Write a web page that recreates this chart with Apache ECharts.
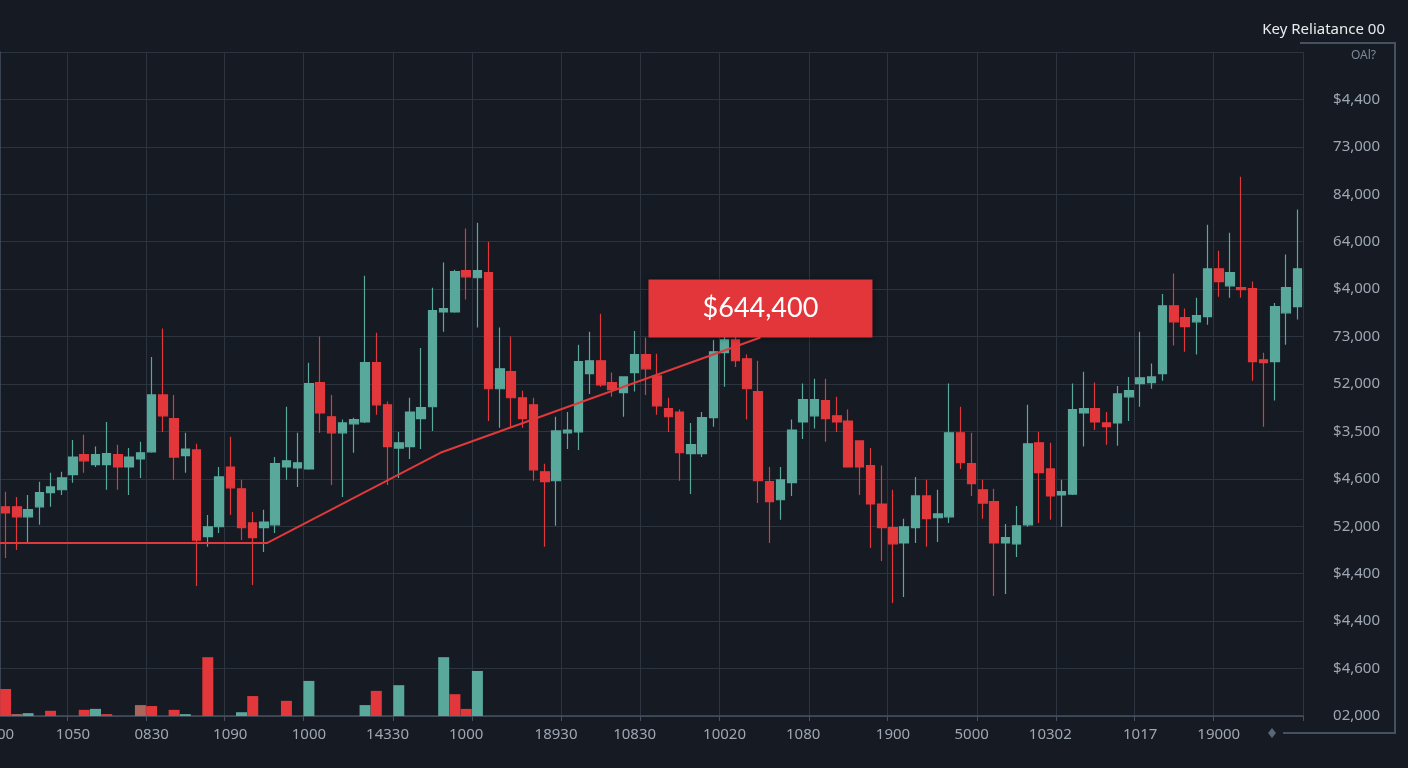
<!DOCTYPE html>
<html>
<head>
<meta charset="utf-8">
<title>Key Reliatance</title>
<script src="https://cdn.jsdelivr.net/npm/echarts@6/dist/echarts.min.js"></script>
<style>
	html, body { margin: 0; padding: 0; background: #151a23; }
	#kline { width: 1408px; height: 768px; }
</style>
</head>
<body>
<div id="kline"></div>
<script>
// 数据 [open, close, low, high]
var candles = [
	[441, 428, 333, 473], [441, 420, 350, 462], [420, 435, 367, 466], [441, 471, 403, 494], [471, 483, 441, 513],
	[477, 502, 466, 515], [509, 546, 492, 582], [551, 538, 513, 593], [530, 551, 525, 568], [530, 553, 477, 620],
	[551, 525, 477, 572], [525, 546, 466, 565], [542, 555, 502, 578], [557, 677, 555, 757], [677, 633, 599, 817],
	[627, 546, 498, 677], [549, 563, 513, 597], [561, 371, 274, 574], [378, 399, 357, 424], [399, 504, 386, 525],
	[525, 481, 424, 589], [479, 397, 371, 498], [407, 376, 276, 430], [397, 409, 346, 435], [403, 532, 386, 546],
	[525, 538, 498, 652], [523, 534, 483, 597], [521, 701, 519, 745], [703, 639, 597, 800], [631, 597, 487, 677],
	[597, 618, 462, 625], [616, 625, 555, 629], [620, 745, 618, 928], [745, 656, 635, 808], [656, 568, 487, 663],
	[565, 576, 502, 599], [568, 641, 542, 671], [627, 650, 563, 776], [652, 855, 601, 903], [852, 859, 810, 956],
	[852, 937, 850, 941], [939, 926, 878, 1028], [924, 939, 819, 1040], [935, 690, 622, 1000], [690, 732, 608, 819],
	[726, 671, 608, 800], [671, 627, 608, 686], [656, 519, 496, 671], [515, 494, 357, 532], [496, 601, 401, 631],
	[597, 603, 563, 641], [599, 747, 561, 783], [722, 749, 679, 810], [749, 698, 694, 848], [703, 688, 673, 724],
	[682, 715, 631, 715], [724, 762, 684, 812], [762, 732, 677, 798], [717, 654, 635, 764], [648, 631, 599, 671],
	[641, 555, 496, 646], [553, 572, 468, 618], [553, 629, 546, 641], [629, 768, 610, 793], [766, 793, 694, 831],
	[793, 749, 736, 819], [753, 690, 625, 762], [684, 496, 449, 749], [494, 452, 365, 525], [456, 498, 414, 525],
	[492, 603, 464, 625], [620, 667, 584, 701], [633, 667, 606, 711], [665, 627, 578, 711], [633, 620, 599, 673],
	[622, 525, 525, 646], [580, 525, 466, 580], [528, 447, 354, 565], [447, 397, 327, 528], [397, 363, 238, 477],
	[365, 399, 251, 416], [397, 464, 365, 504], [464, 416, 357, 498], [418, 426, 367, 477], [420, 597, 407, 701],
	[597, 534, 521, 652], [532, 490, 464, 597], [477, 449, 416, 498], [452, 365, 253, 479], [365, 376, 257, 405],
	[363, 401, 335, 443], [403, 574, 399, 656], [576, 513, 407, 599], [521, 464, 414, 576], [466, 473, 399, 498],
	[468, 646, 466, 701], [639, 648, 568, 726], [648, 620, 603, 703], [618, 610, 572, 641], [618, 679, 570, 696],
	[673, 686, 622, 715], [701, 713, 652, 810], [703, 715, 690, 743], [722, 865, 707, 890], [865, 831, 781, 933],
	[840, 821, 768, 859], [831, 844, 762, 882], [842, 943, 825, 1036], [943, 916, 884, 981], [907, 935, 882, 1019],
	[903, 899, 882, 1137], [901, 747, 707, 916], [751, 745, 610, 766], [747, 863, 665, 871], [850, 903, 783, 973],
	[863, 943, 836, 1068]
];

// 成交量 (candle index, value, direction 1 up / -1 down / 0 muted)
var volIdx = [0, 1, 2, 4, 7, 8, 9, 12, 13, 15, 16, 18, 21, 22, 25, 27, 32, 33, 35, 39, 40, 41, 42];
var volVals = [57, 4, 6, 11, 13, 15, 4, 23, 21, 13, 4, 124, 8, 42, 32, 74, 23, 53, 65, 124, 46, 15, 95];
var volDir = [-1, 0, 1, -1, -1, 1, -1, 0, -1, -1, 1, -1, 1, -1, -1, 1, 1, -1, 1, 1, -1, -1, 1];

// 支撑/趋势线
var trendX = [0, 23.8, 39.2, 67.7];
var trendY = [365, 365, 555, 798];
var boxText = '$644,400';

// x 轴标签
var xLabelIdx = [0, 6, 13, 20, 27, 34, 41, 49, 56, 64, 71, 79, 86, 93, 101, 108];
var xLabels = ['00', '1050', '0830', '1090', '1000', '14330', '1000', '18930', '10830', '10020', '1080', '1900', '5000', '10302', '1017', '19000'];
var xSplitIdx = [6, 13, 20, 27, 35, 42, 50, 57, 64, 72, 79, 87, 94, 101, 108];

// y 轴标签 (0 .. 1400 step 100)
var yLabels = ['02,000', '$4,600', '$4,400', '$4,400', '52,000', '$4,600', '$3,500', '52,000', '73,000', '$4,000', '64,000', '84,000', '73,000', '$4,400', 'OAl?'];

var main = {
	init: function() {
		main.kline()
	},
	kline: function() {
		var myChart = echarts.init(document.getElementById('kline'));
		var up = '#58a89c', down = '#e2383b', muted = '#a9675c';
		var gridColor = '#2c343f', axisColor = '#465061', textColor = '#9ea7b2';

		var cats = candles.map(function(d, i) { return 'd' + i; });
		var vol = cats.map(function() { return null; });
		volIdx.forEach(function(k, i) {
			vol[k] = {
				value: volVals[i],
				itemStyle: { color: volDir[i] > 0 ? up : (volDir[i] < 0 ? down : muted) }
			};
		});
		var trend = trendX.map(function(x, i) { return [x, trendY[i]]; });
		var last = trend[trend.length - 1];

		var option = {
			animation: false,
			backgroundColor: '#151a23',
			title: {
				text: 'Key Reliatance 00',
				right: 18,
				top: 17,
				textStyle: { color: '#e9ecef', fontSize: 15, fontWeight: 'normal', fontFamily: 'Noto Sans' }
			},
			grid: { left: 0, right: 105, top: 52, bottom: 52, containLabel: false, outerBoundsMode: 'none' },
			xAxis: [{
				type: 'category',
				data: cats,
				boundaryGap: true,
				axisLine: { lineStyle: { color: axisColor, width: 1.5 } },
				axisTick: {
					show: true,
					length: 5,
					interval: function(i) { return xSplitIdx.indexOf(i) >= 0; },
					lineStyle: { color: axisColor }
				},
				axisLabel: {
					interval: function(i) { return xLabelIdx.indexOf(i) >= 0; },
					formatter: function(v, i) {
						var k = xLabelIdx.indexOf(i);
						return k >= 0 ? xLabels[k] : '';
					},
					color: textColor,
					fontSize: 15,
					fontFamily: 'Noto Sans',
					margin: 11
				},
				splitLine: {
					show: true,
					interval: function(i) { return xSplitIdx.indexOf(i) >= 0; },
					lineStyle: { color: gridColor }
				}
			}, {
				// 趋势线用的隐藏数值轴
				type: 'value',
				min: 0,
				max: candles.length,
				show: false
			}],
			yAxis: {
				type: 'value',
				position: 'right',
				min: 0,
				max: 1400,
				interval: 100,
				axisLine: { show: true, lineStyle: { color: axisColor, width: 1.5 } },
				axisTick: { show: false },
				splitLine: { lineStyle: { color: gridColor } },
				axisLabel: {
					align: 'right',
					margin: 77,
					color: textColor,
					fontSize: 15,
					fontFamily: 'Noto Sans',
					formatter: function(v) {
						var k = Math.round(v / 100);
						return k === 14 ? '{s|' + yLabels[k] + '}' : yLabels[k];
					},
					rich: { s: { fontSize: 12, color: '#7f8a98', padding: [8, 4, 0, 0] } }
				}
			},
			series: [{
				name: 'vol',
				type: 'bar',
				barWidth: 11,
				z: 1,
				data: vol
			}, {
				name: 'k',
				type: 'candlestick',
				barWidth: 9,
				z: 2,
				itemStyle: {
					color: up,
					color0: down,
					borderColor: up,
					borderColor0: down,
					borderWidth: 1.2
				},
				data: candles
			}, {
				name: 'trend',
				type: 'line',
				xAxisIndex: 1,
				z: 5,
				symbol: 'none',
				lineStyle: { color: '#e0393b', width: 2 },
				data: trend,
				markPoint: {
					symbol: 'rect',
					symbolSize: [224, 58],
					symbolOffset: [0, -29],
					itemStyle: { color: '#e3363a', shadowBlur: 6, shadowColor: 'rgba(0,0,0,0.35)' },
					label: {
						show: true,
						formatter: boxText,
						color: '#ffffff',
						fontSize: 27,
						fontFamily: 'Lato'
					},
					data: [{ coord: last }]
				}
			}],
			graphic: [{
				type: 'polyline',
				silent: true,
				shape: { points: [[1300, 43], [1395, 43], [1395, 733], [1283, 733]] },
				style: { stroke: '#465162', lineWidth: 2, fill: null }
			}, {
				type: 'polygon',
				silent: true,
				shape: { points: [[1272, 728], [1276, 733], [1272, 738], [1268, 733]] },
				style: { fill: '#5b6678' }
			}]
		};
		myChart.setOption(option);
	}
}

main.init()
</script>
</body>
</html>
